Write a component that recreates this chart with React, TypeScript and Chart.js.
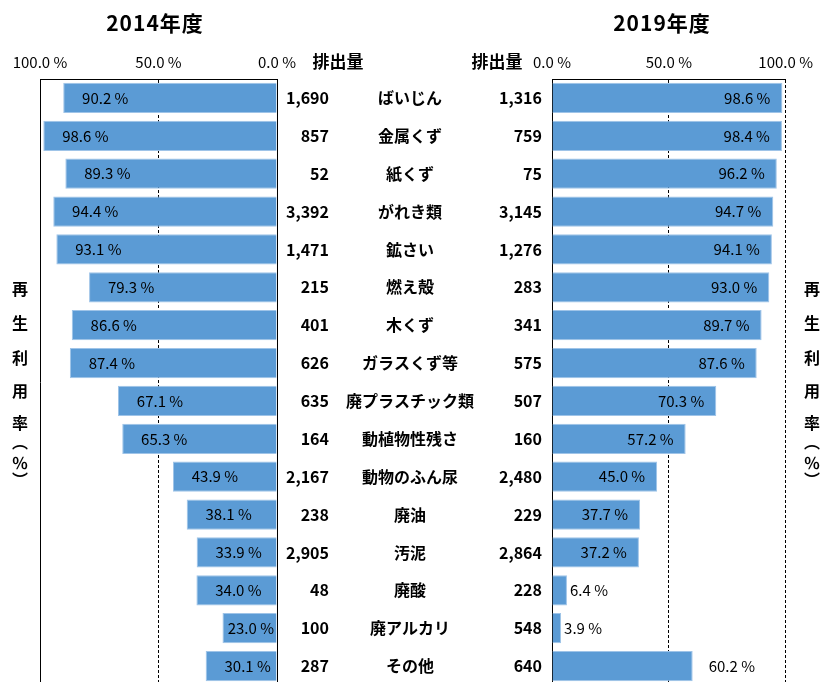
import React, { useEffect, useRef } from "react";
import { Chart, registerables } from "chart.js";

Chart.register(...registerables);

// ---------- data ----------
const categories = [
  "ばいじん", "金属くず", "紙くず", "がれき類", "鉱さい", "燃え殻", "木くず", "ガラスくず等",
  "廃プラスチック類", "動植物性残さ", "動物のふん尿", "廃油", "汚泥", "廃酸", "廃アルカリ", "その他",
];
const rate2014 = [90.2, 98.6, 89.3, 94.4, 93.1, 79.3, 86.6, 87.4, 67.1, 65.3, 43.9, 38.1, 33.9, 34.0, 23.0, 30.1];
const rate2019 = [98.6, 98.4, 96.2, 94.7, 94.1, 93.0, 89.7, 87.6, 70.3, 57.2, 45.0, 37.7, 37.2, 6.4, 3.9, 60.2];
const emission2014 = [1690, 857, 52, 3392, 1471, 215, 401, 626, 635, 164, 2167, 238, 2905, 48, 100, 287];
const emission2019 = [1316, 759, 75, 3145, 1276, 283, 341, 575, 507, 160, 2480, 229, 2864, 228, 548, 640];
const yearLeft = "2014年度";
const yearRight = "2019年度";
const emissionHeader = "排出量";
const axisTitleChars = ["再", "生", "利", "用", "率", "︵", "％", "︶"];

// ---------- style ----------
const W = 821;
const H = 700;
const FONT = '"Noto Sans CJK JP", "Noto Sans", sans-serif';
const BAR = "#5B9BD5";
const BAR_EDGE = "#9fc4e8";
const RIGHT_OUTSIDE = new Set([13, 14, 15]);

const fmtPct = (v: number) => v.toFixed(1) + " %";
const fmtNum = (v: number) => v.toLocaleString("en-US");

function baseOptions(reverse: boolean, padL: number, padR: number, dashAt100: boolean) {
  return {
    indexAxis: "y" as const,
    responsive: false,
    animation: false as const,
    events: [],
    layout: { padding: { left: padL, right: padR, top: 0, bottom: H - 685 } },
    plugins: { legend: { display: false }, tooltip: { enabled: false }, title: { display: false } },
    scales: {
      x: {
        type: "linear" as const,
        position: "top" as const,
        reverse,
        min: 0,
        max: 100,
        ticks: {
          stepSize: 50,
          callback: (v: any) => fmtPct(Number(v)),
          font: { family: FONT, size: 15 },
          color: "#000",
          padding: 8,
          maxRotation: 0,
        },
        grid: { color: "#000", lineWidth: 1, drawTicks: false },
        border: {
          display: true,
          color: "#000",
          width: 1,
          dash: (ctx: any) => (ctx.tick && ctx.tick.value === 100 && !dashAt100 ? [] : [3, 2]),
        },
        afterFit: (s: any) => {
          s.height = 79;
        },
      },
      y: {
        type: "category" as const,
        position: reverse ? ("right" as const) : ("left" as const),
        offset: true,
        ticks: { display: false },
        grid: { display: false },
        border: { display: true, color: "#000", width: 1 },
        afterFit: (s: any) => {
          s.width = 0;
        },
      },
    },
  };
}

const leftPlugin = {
  id: "leftText",
  afterDraw(chart: any) {
    const ctx = chart.ctx;
    const x = chart.scales.x;
    const y = chart.scales.y;
    ctx.save();
    ctx.fillStyle = "#000";
    ctx.textBaseline = "middle";
    ctx.font = `15px ${FONT}`;
    ctx.textAlign = "center";
    rate2014.forEach((v, i) => {
      const t = fmtPct(v);
      const yc = y.getPixelForValue(i);
      const end = x.getPixelForValue(v);
      const w = ctx.measureText(t).width;
      let cx = end + 42;
      const maxCx = x.getPixelForValue(0) - 3 - w / 2;
      if (cx > maxCx) cx = maxCx;
      ctx.fillText(t, cx, yc);
    });
    ctx.font = `bold 16px ${FONT}`;
    ctx.textAlign = "right";
    emission2014.forEach((v, i) => ctx.fillText(fmtNum(v), 329, y.getPixelForValue(i)));
    ctx.textAlign = "center";
    categories.forEach((c, i) => ctx.fillText(c, 410, y.getPixelForValue(i)));
    ctx.font = `bold 17px ${FONT}`;
    ctx.fillText(emissionHeader, 338, 62);
    ctx.restore();
  },
};

const rightPlugin = {
  id: "rightText",
  afterDraw(chart: any) {
    const ctx = chart.ctx;
    const x = chart.scales.x;
    const y = chart.scales.y;
    ctx.save();
    ctx.fillStyle = "#000";
    ctx.textBaseline = "middle";
    ctx.font = `15px ${FONT}`;
    rate2019.forEach((v, i) => {
      const t = fmtPct(v);
      const yc = y.getPixelForValue(i);
      const end = x.getPixelForValue(v);
      if (RIGHT_OUTSIDE.has(i)) {
        ctx.textAlign = "left";
        ctx.fillText(t, end + (v < 10 ? 3 : 16), yc);
      } else {
        ctx.textAlign = "right";
        ctx.fillText(t, end - 12, yc);
      }
    });
    ctx.font = `bold 16px ${FONT}`;
    ctx.textAlign = "right";
    emission2019.forEach((v, i) => ctx.fillText(fmtNum(v), 542, y.getPixelForValue(i)));
    ctx.font = `bold 17px ${FONT}`;
    ctx.textAlign = "center";
    ctx.fillText(emissionHeader, 497, 62);
    ctx.restore();
  },
};

export default function App() {
  const leftRef = useRef<HTMLCanvasElement>(null);
  const rightRef = useRef<HTMLCanvasElement>(null);

  useEffect(() => {
    const dsStyle = {
      backgroundColor: BAR,
      borderColor: BAR_EDGE,
      borderWidth: 1,
      barPercentage: 0.8,
      categoryPercentage: 1,
    };
    const left = new Chart(leftRef.current as HTMLCanvasElement, {
      type: "bar",
      data: { labels: categories, datasets: [{ data: rate2014, ...dsStyle }] },
      options: baseOptions(true, 40, W - 277, false) as any,
      plugins: [leftPlugin],
    });
    const right = new Chart(rightRef.current as HTMLCanvasElement, {
      type: "bar",
      data: { labels: categories, datasets: [{ data: rate2019, ...dsStyle }] },
      options: baseOptions(false, 552, W - 788, true) as any,
      plugins: [rightPlugin],
    });
    return () => {
      left.destroy();
      right.destroy();
    };
  }, []);

  const titleStyle = (cx: number): React.CSSProperties => ({
    position: "absolute",
    left: cx,
    top: 22,
    transform: "translate(-50%, -50%)",
    fontFamily: FONT,
    fontWeight: 700,
    fontSize: 21,
    letterSpacing: 1,
    whiteSpace: "nowrap",
    color: "#000",
  });

  const axisYs = [288, 322, 357, 390, 422, 441, 462, 479];
  const axisTitle = (cx: number) =>
    axisTitleChars.map((c, i) => (
      <span
        key={cx + "-" + i}
        style={{
          position: "absolute",
          left: cx,
          top: axisYs[i],
          transform: "translate(-50%, -50%)",
          fontFamily: FONT,
          fontWeight: 700,
          fontSize: 16,
          lineHeight: "16px",
          color: "#000",
        }}
      >
        {c}
      </span>
    ));

  return (
    <div
      style={{
        position: "absolute",
        left: 0,
        top: 0,
        width: W,
        height: 682,
        overflow: "hidden",
        background: "#fff",
      }}
    >
      <canvas
        ref={leftRef}
        width={W}
        height={H}
        style={{ position: "absolute", left: 0, top: 0, width: W, height: H }}
      />
      <canvas
        ref={rightRef}
        width={W}
        height={H}
        style={{ position: "absolute", left: 0, top: 0, width: W, height: H }}
      />
      <div style={titleStyle(155)}>{yearLeft}</div>
      <div style={titleStyle(662)}>{yearRight}</div>
      {axisTitle(20)}
      {axisTitle(812)}
    </div>
  );
}
